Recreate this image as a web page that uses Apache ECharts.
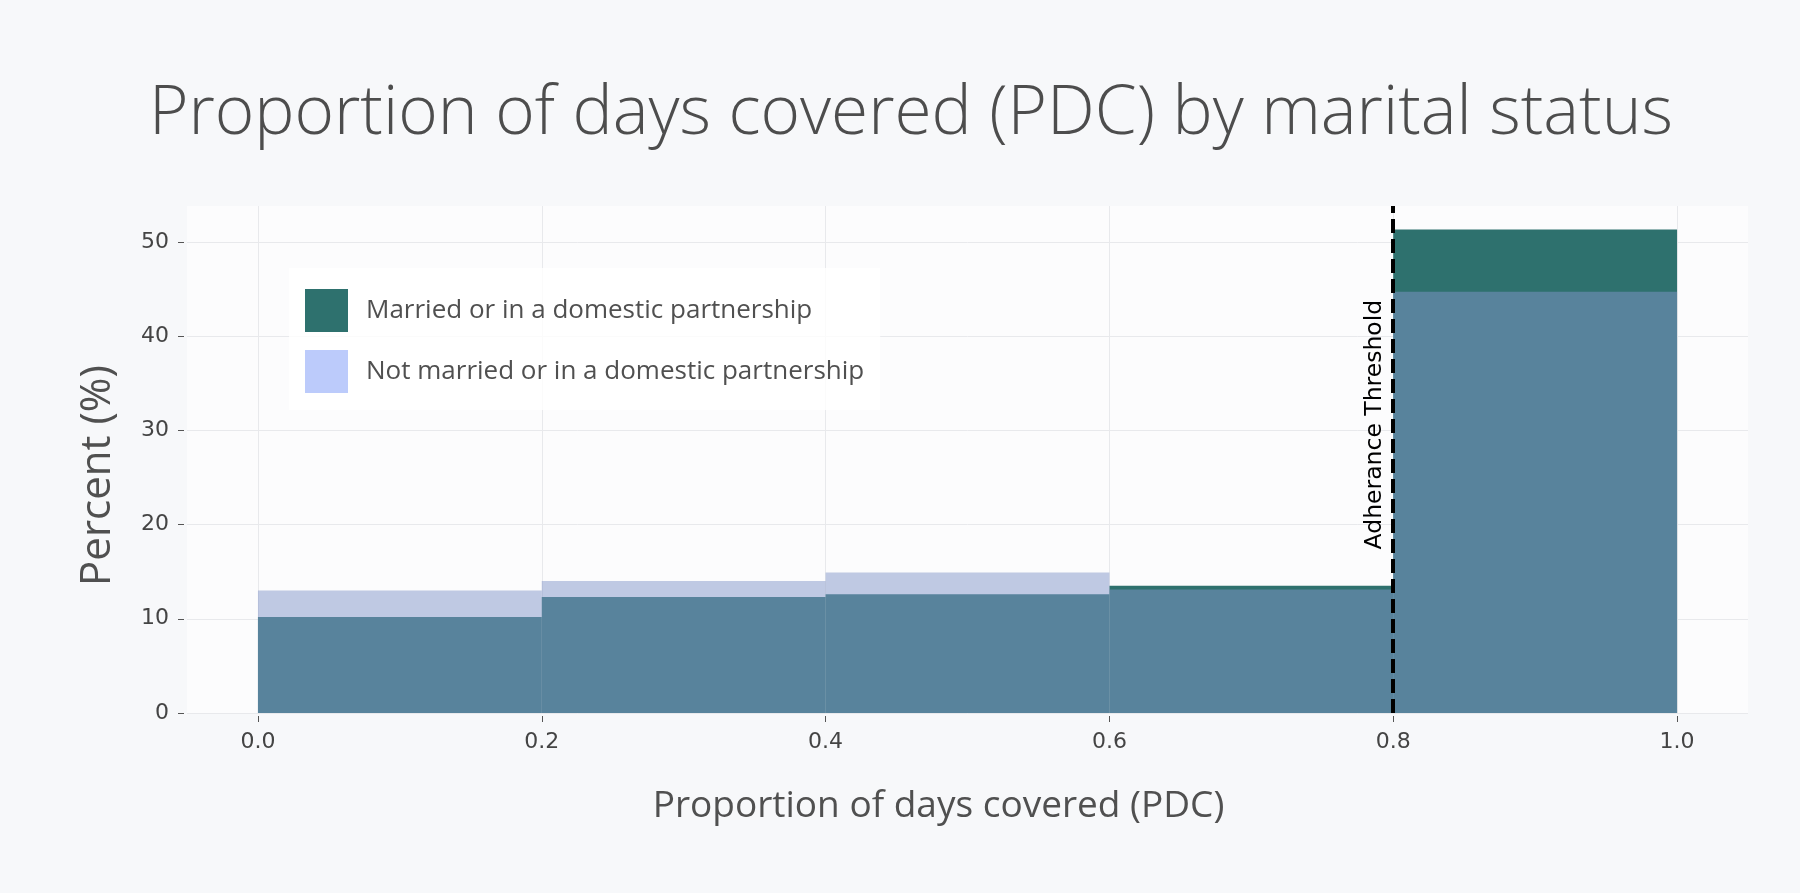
<!DOCTYPE html>
<html>
<head>
<meta charset="utf-8">
<script src="https://cdn.jsdelivr.net/npm/echarts@6/dist/echarts.min.js"></script>
<style>
  html, body { margin: 0; padding: 0; background: #f7f8fa; }
  #chart { width: 1800px; height: 893px; }
</style>
</head>
<body>
<div id="chart"></div>
<script>
// histogram bins (PDC) and percent per group
const binEdges = [0.0, 0.2, 0.4, 0.6, 0.8, 1.0];
const married = [10.2, 12.3, 12.6, 13.5, 51.3];
const notMarried = [13.0, 14.0, 14.9, 13.1, 44.7];
const xTicks = [0, 0.2, 0.4, 0.6, 0.8, 1.0];
const yTicks = [0, 10, 20, 30, 40, 50];
const threshold = 0.8;
const thresholdLabelY = 30.6;

const marriedName = 'Married or in a domestic partnership';
const notMarriedName = 'Not married or in a domestic partnership';

function toBins(values) {
  return values.map((v, i) => [binEdges[i], binEdges[i + 1], v]);
}

function barRenderer(fill) {
  return function (params, api) {
    const topLeft = api.coord([api.value(0), api.value(2)]);
    const bottomRight = api.coord([api.value(1), 0]);
    return {
      type: 'rect',
      shape: {
        x: topLeft[0],
        y: topLeft[1],
        width: bottomRight[0] - topLeft[0],
        height: bottomRight[1] - topLeft[1]
      },
      style: { fill: fill }
    };
  };
}

const chart = echarts.init(document.getElementById('chart'));
chart.setOption({
  animation: false,
  backgroundColor: '#f7f8fa',
  title: {
    text: 'Proportion of days covered (PDC) by marital status',
    left: 149,
    top: 81,
    padding: 0,
    textStyle: {
      fontFamily: 'Open Sans',
      fontWeight: 300,
      fontSize: 67.5,
      color: '#4d4d4d'
    }
  },
  grid: {
    left: 187,
    right: 52,
    top: 206,
    bottom: 180,
    show: true,
    backgroundColor: '#fcfcfd',
    borderWidth: 0
  },
  legend: {
    left: 289,
    top: 268,
    orient: 'vertical',
    icon: 'rect',
    itemWidth: 43,
    itemHeight: 43,
    itemGap: 18,
    padding: [21, 16, 17, 16],
    backgroundColor: 'rgba(255,255,255,0.8)',
    textStyle: {
      fontFamily: 'Open Sans',
      fontSize: 26,
      color: '#505050',
      padding: [0, 0, 0, 13]
    },
    data: [
      { name: marriedName, itemStyle: { color: '#2e716e' } },
      { name: notMarriedName, itemStyle: { color: '#bccbfb' } }
    ]
  },
  xAxis: {
    type: 'value',
    min: -0.05,
    max: 1.05,
    offset: 3,
    name: 'Proportion of days covered (PDC)',
    nameLocation: 'middle',
    nameGap: 72,
    nameTextStyle: {
      fontFamily: 'Open Sans',
      fontSize: 37,
      color: '#505050',
      padding: [0, 58, 0, 0]
    },
    axisLine: { show: false, onZero: false },
    axisTick: { show: true, length: 6, customValues: xTicks, lineStyle: { color: '#555' } },
    axisLabel: {
      customValues: xTicks,
      margin: 15,
      fontFamily: 'DejaVu Sans',
      fontSize: 22,
      color: '#444',
      formatter: v => v.toFixed(1)
    },
    splitLine: { show: true, lineStyle: { color: '#e8e9ec', width: 1 } }
  },
  yAxis: {
    type: 'value',
    min: 0,
    max: 53.8,
    offset: 3,
    name: 'Percent (%)',
    nameLocation: 'middle',
    nameGap: 65,
    nameTextStyle: {
      fontFamily: 'Open Sans',
      fontSize: 42,
      color: '#505050',
      padding: [0, 32, 0, 0]
    },
    axisLine: { show: false, onZero: false },
    axisTick: { show: true, length: 6, customValues: yTicks, lineStyle: { color: '#555' } },
    axisLabel: {
      customValues: yTicks,
      margin: 15,
      fontFamily: 'DejaVu Sans',
      fontSize: 22,
      color: '#444'
    },
    splitLine: { show: true, lineStyle: { color: '#e8e9ec', width: 1 } }
  },
  series: [
    {
      name: marriedName,
      type: 'custom',
      itemStyle: { color: '#2e716e' },
      renderItem: barRenderer('#2e716e'),
      encode: { x: [0, 1], y: 2 },
      data: toBins(married)
    },
    {
      name: notMarriedName,
      type: 'custom',
      z: 3,
      itemStyle: { color: '#bccbfb' },
      renderItem: barRenderer('rgba(130,150,201,0.5)'),
      encode: { x: [0, 1], y: 2 },
      data: toBins(notMarried),
      markLine: {
        silent: true,
        symbol: ['none', 'none'],
        lineStyle: { color: '#000', width: 4, type: [14, 6] },
        label: { show: false },
        data: [{ xAxis: threshold }]
      },
      markPoint: {
        silent: true,
        symbol: 'circle',
        symbolSize: 1,
        itemStyle: { color: 'rgba(0,0,0,0)' },
        label: {
          show: true,
          position: 'inside',
          rotate: 90,
          offset: [0, -18],
          fontFamily: 'DejaVu Sans',
          fontSize: 23.5,
          color: '#000',
          formatter: 'Adherance Threshold'
        },
        data: [{ coord: [threshold, thresholdLabelY] }]
      }
    }
  ]
});
</script>
</body>
</html>
